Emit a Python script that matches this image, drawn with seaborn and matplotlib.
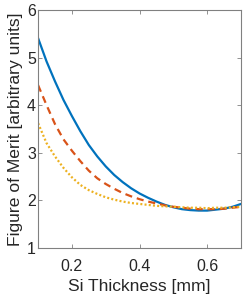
import matplotlib
matplotlib.use("Agg")
import matplotlib.pyplot as plt
import numpy as np
import pandas as pd
import seaborn as sns

# ============================================================
# Data
# ============================================================
thickness = [0.100, 0.125, 0.150, 0.175, 0.200, 0.225, 0.250, 0.275, 0.300,
             0.325, 0.350, 0.375, 0.400, 0.425, 0.450, 0.475, 0.500, 0.525,
             0.550, 0.575, 0.600, 0.625, 0.650, 0.675, 0.700]
fom_solid = [5.41, 4.92, 4.50, 4.11, 3.77, 3.45, 3.16, 2.92, 2.71,
             2.53, 2.38, 2.25, 2.14, 2.05, 1.97, 1.90, 1.85, 1.81,
             1.79, 1.78, 1.78, 1.80, 1.82, 1.86, 1.92]
fom_dashed = [4.42, 4.00, 3.60, 3.28, 3.04, 2.82, 2.62, 2.46, 2.34,
              2.24, 2.15, 2.08, 2.02, 1.97, 1.93, 1.89, 1.86, 1.84,
              1.82, 1.81, 1.81, 1.81, 1.82, 1.84, 1.86]
fom_dotted = [3.62, 3.20, 2.92, 2.68, 2.48, 2.32, 2.21, 2.13, 2.06,
              2.01, 1.97, 1.94, 1.92, 1.90, 1.88, 1.87, 1.86, 1.85,
              1.84, 1.84, 1.83, 1.84, 1.84, 1.85, 1.86]

x_ticks = [0.2, 0.4, 0.6]
y_ticks = [1, 2, 3, 4, 5, 6]

series = [
    (fom_solid, "#0072BD", "-"),
    (fom_dashed, "#D95319", (0, (3.2, 2.2))),
    (fom_dotted, "#EDB120", (0, (0.9, 1.0))),
]

# ============================================================
# Plot
# ============================================================
sns.set_theme(style="ticks")
plt.rcParams["font.family"] = ["Liberation Sans", "DejaVu Sans"]

fig = plt.figure(figsize=(2.49, 2.98), dpi=100)
ax = fig.add_axes([0.153, 0.169, 0.815, 0.797])

for vals, color, ls in series:
    df = pd.DataFrame({"x": thickness, "y": vals})
    sns.lineplot(data=df, x="x", y="y", color=color, linewidth=1.6, ax=ax,
                 linestyle=ls)

ax.set_xlim(0.1, 0.7)
ax.set_ylim(1, 6)
ax.set_xticks(x_ticks)
ax.set_xticklabels([f"{t:.1f}" for t in x_ticks])
ax.set_yticks(y_ticks)

axis_col = "#262626"
for sp in ax.spines.values():
    sp.set_visible(True)
    sp.set_color("#808080")
    sp.set_linewidth(0.8)
ax.tick_params(direction="in", length=3, width=0.6, colors="#808080",
               labelcolor=axis_col, labelsize=11.5, top=True, right=True)
ax.tick_params(axis="x", pad=8)
ax.tick_params(axis="y", pad=1.5)

ax.set_xlabel("Si Thickness [mm]", fontsize=12.6, color=axis_col, labelpad=3.5)
ax.set_ylabel("Figure of Merit [arbitrary units]", fontsize=12.6, color=axis_col,
              labelpad=3)

fig.savefig("out.png", dpi=100)
plt.close(fig)
